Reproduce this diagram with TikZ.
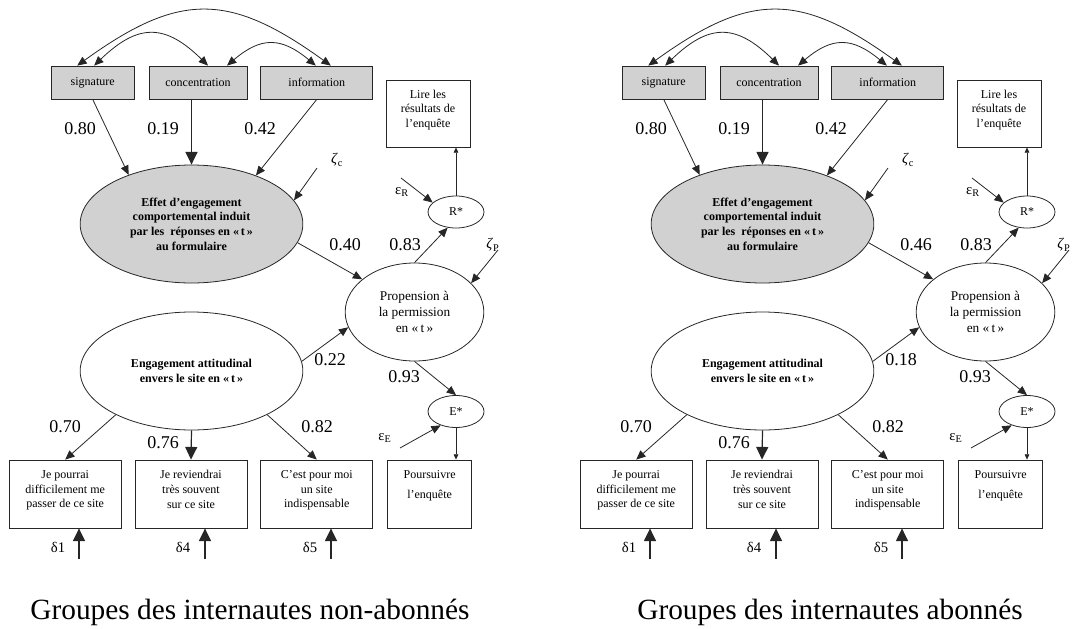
\documentclass[tikz,border=0pt]{standalone}
\usepackage{fontspec}
\setmainfont{Liberation Serif}
\usetikzlibrary{shapes.geometric, arrows.meta, positioning}
\tikzset{
    base/.style={draw=black!85, line width=0.6pt, align=center, inner sep=1pt, font=\fontsize{9}{11}\selectfont},
    factor/.style={base, rectangle, fill=black!18, minimum height=24.75pt},
    obsbox/.style={base, rectangle, minimum width=84pt, minimum height=51pt},
    latent/.style={base, ellipse, minimum width=167pt, minimum height=88.5pt, font=\fontsize{9}{11}\selectfont\bfseries},
    indic/.style={base, ellipse, minimum width=42pt, minimum height=24pt},
    coef/.style={inner sep=0pt, font=\fontsize{13.5}{16}\selectfont},
    err/.style={inner sep=0pt, font=\fontsize{11}{13}\selectfont},
    caption/.style={inner sep=0pt, font=\fontsize{22}{26}\selectfont},
    arrow/.style={line width=0.6pt, -{Triangle[length=7pt,width=6pt]}, draw=black!85},
    bigarrow/.style={line width=0.9pt, -{Triangle[length=9.5pt,width=9pt]}, draw=black!85},
    smallarrow/.style={line width=0.6pt, -{Triangle[length=4pt,width=3.5pt]}, draw=black!85},
    cov/.style={line width=0.6pt, {Triangle[length=7pt,width=6pt]}-{Triangle[length=7pt,width=6pt]}, draw=black!85}
}
\begin{document}
\begin{tikzpicture}[x=0.75pt, y=-0.75pt, node distance=9.75pt]
    \useasboundingbox (0,0) rectangle (1073,628);
    \clip (0,0) rectangle (1073,628);
    \foreach \dx/\ve/\vp/\cx/\grp in {0/0.40/0.22/250/non-abonnés, 571/0.46/0.18/259/abonnés}{
    \begin{scope}[shift={(\dx,0)}]
        % Nodes
        \node (conc) [factor, minimum width=73.5pt] at (198,82.5) {concentration};
        \node (sig) [factor, minimum width=62.25pt, left=10.5pt of conc] {signature};
        \node (info) [factor, minimum width=84pt, right=of conc] {information};
        \node (lire) [obsbox, minimum width=63pt, minimum height=50.25pt] at (428,113.5) {Lire les\\résultats de\\l’enquête\\[-4pt]\mbox{}};
        \node (effet) [latent, fill=black!18] at (191.5,224) {Effet d’engagement\\comportemental induit\\par les \ réponses en «\,t\,»\\au formulaire};
        \node (rstar) [indic] at (456,212) {R*};
        \node (prop) [base, ellipse, minimum width=104pt, minimum height=73.5pt, font=\fontsize{10}{12}\selectfont] at (414.5,312) {Propension à\\la permission\\en «\,t\,»};
        \node (eng) [latent] at (191.5,371) {Engagement attitudinal\\envers le site en «\,t\,»};
        \node (estar) [indic] at (456,411.5) {E*};
        \node (box2) [obsbox] at (191,494) {Je reviendrai\\très souvent\\sur ce site\\[-4pt]\mbox{}};
        \node (box1) [obsbox, left=of box2] {Je pourrai\\difficilement me\\passer de ce site\\[-4pt]\mbox{}};
        \node (box3) [obsbox, right=of box2] {C’est pour moi\\un site\\indispensable\\[-4pt]\mbox{}};
        \node (pours) [obsbox, minimum width=63pt, right=10.5pt of box3] {Poursuivre\\[4pt]l’enquête\\[3pt]\mbox{}};

        % Labels
        \node (c1) [coef] at (80,129) {0.80};
        \node (c2) [coef] at (163,129) {0.19};
        \node (c3) [coef] at (260,129) {0.42};
        \node (c4) [coef] at (345,245) {\ve};
        \node (c5) [coef] at (405,245) {0.83};
        \node (c6) [coef] at (330,360) {\vp};
        \node (c7) [coef] at (404,377) {0.93};
        \node (c8) [coef] at (65,427) {0.70};
        \node (c9) [coef] at (163,443) {0.76};
        \node (c10) [coef] at (317,427) {0.82};
        \node (zc) [err] at (337,160) {\textit{ζ}\textsubscript{c}};
        \node (zp) [err] at (493,245) {\textit{ζ}\textsubscript{P}};
        \node (er) [err] at (402,192) {ε\textsubscript{R}};
        \node (ee) [err] at (385,438) {ε\textsubscript{E}};
        \node (d1) [err] at (58,547) {δ1};
        \node (d4) [err] at (183,547) {δ4};
        \node (d5) [err] at (310,547) {δ5};
        \node (cap) [caption] at (\cx,612) {Groupes des internautes \grp};

        % Free ends
        \coordinate (zcs) at (317,168);
        \coordinate (zps) at (498,250);
        \coordinate (ers) at (401,178);
        \coordinate (ees) at (400,448);
        \coordinate (d1s) at (79,559);
        \coordinate (d4s) at (205,559);
        \coordinate (d5s) at (331,559);

        % Covariances
        \draw [cov] ([xshift=-11.6pt]sig.north) .. controls (179,-8) and (229,-8) .. ([xshift=10.5pt]info.north);
        \draw [cov] ([xshift=1.1pt]sig.north) .. controls (138,23.3) and (165,23.3) .. ([xshift=7.5pt]conc.north);
        \draw [cov] ([xshift=21.75pt]conc.north) .. controls (261,36.7) and (281,36.7) .. ([xshift=-0.75pt]info.north);

        % Arrows
        \draw [arrow] (sig.south) -- (effet.142);
        \draw [bigarrow] (effet.north |- conc.south) -- (effet.north);
        \draw [arrow] (info.south) -- (effet.37);
        \draw [arrow] (zcs) -- (effet.13);
        \draw [arrow] (effet.-10) -- (prop.148);
        \draw [arrow] (prop.north) -- (rstar.-118);
        \draw [smallarrow] (rstar.north) -- (rstar.north |- lire.south);
        \draw [arrow] (ers) -- (rstar.158);
        \draw [arrow] (zps) -- (prop.27);
        \draw [arrow] (eng.5) -- (prop.193);
        \draw [arrow] (prop.south) -- (estar.north);
        \draw [arrow] (ees) -- (estar.222);
        \draw [smallarrow] (estar.south) -- (estar.south |- pours.north);
        \draw [arrow] (eng.210) -- (box1.north);
        \draw [bigarrow] (eng.south) -- (box2.north);
        \draw [arrow] (eng.-30) -- (box3.north);
        \draw [bigarrow] (d1s) -- (d1s |- box1.south);
        \draw [bigarrow] (d4s) -- (d4s |- box2.south);
        \draw [bigarrow] (d5s) -- (d5s |- box3.south);
    \end{scope}
    }
\end{tikzpicture}
\end{document}
